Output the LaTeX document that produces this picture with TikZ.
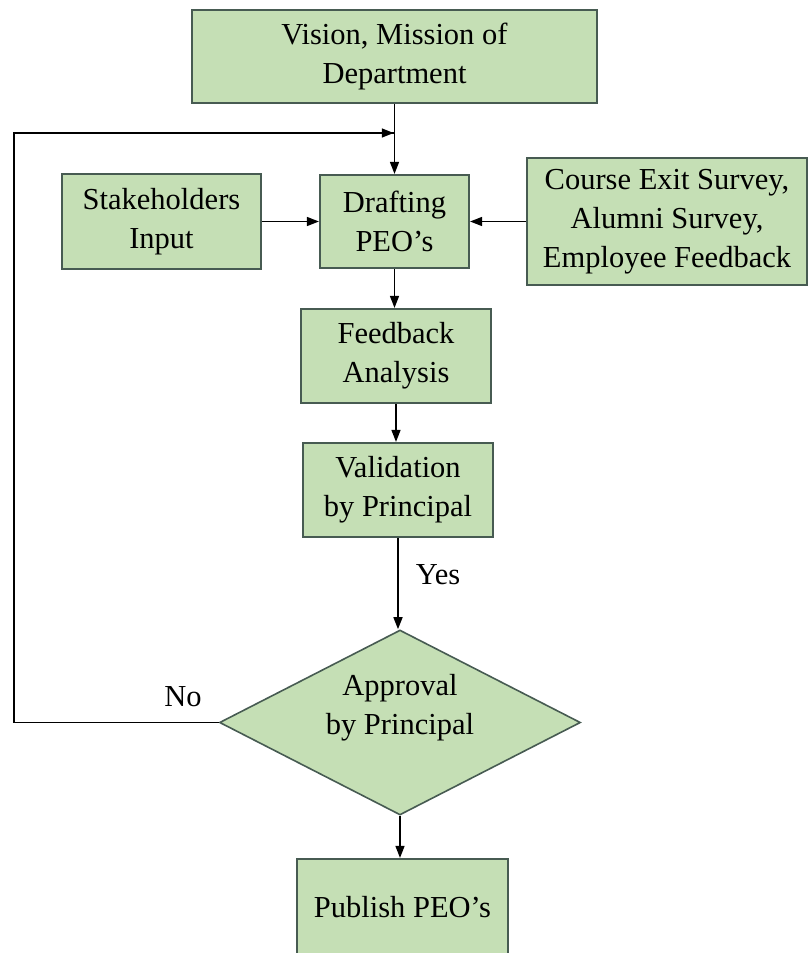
\documentclass[tikz,border=0pt]{standalone}
\usepackage{fontspec}
\setmainfont{Liberation Serif}
\usetikzlibrary{shapes.geometric,arrows.meta}
\definecolor{boxfill}{HTML}{C5DFB5}
\definecolor{boxline}{HTML}{475B52}
\begin{document}
\begin{tikzpicture}[x=1pt,y=-1pt,
  every node/.style={font=\fontsize{30.5}{39}\selectfont},
  stepbox/.style={draw=boxline,fill=boxfill,line width=2.2pt,rectangle,
    inner sep=0pt,align=center},
  decision/.style={draw=boxline,fill=boxfill,line width=1.6pt,diamond,
    inner sep=0pt,minimum width=361pt,minimum height=185pt},
  flow/.style={line width=1.5pt,-{Triangle[length=12pt,width=9pt]}},
  plainline/.style={line width=1.5pt},
  tag/.style={inner sep=0pt}]
\useasboundingbox (0,0) rectangle (807,953);

% process boxes
\node[stepbox,minimum width=405pt,minimum height=93pt] (vision) at (394.5,56.5)
  {Vision, Mission of\\Department};
\node[stepbox,minimum width=199pt,minimum height=95pt] (stake) at (161.5,221.5)
  {Stakeholders\\Input};
\node[stepbox,minimum width=149pt,minimum height=93pt] (draft) at (394.5,221.5)
  {Drafting\\PEO’s};
\node[stepbox,minimum width=280pt,minimum height=127pt] (survey) at (667,221.5)
  {Course Exit Survey,\\Alumni Survey,\\Employee Feedback};
\node[stepbox,minimum width=190pt,minimum height=94pt] (feedback) at (396,356)
  {Feedback\\Analysis};
\node[stepbox,minimum width=190pt,minimum height=94pt] (valid) at (398,490)
  {Validation\\by Principal};

% decision
\node[decision] (approve) at (400,722.5) {};
\node[tag,align=center] (approvetext) at (400,708) {Approval\\by Principal};

\node[stepbox,minimum width=211pt,minimum height=96pt] (publish) at (402.5,907)
  {Publish PEO’s};

% connectors
\coordinate (merge) at (vision.south |- 0,133);
\draw[flow] (vision.south) -- (vision.south |- draft.north);
\draw[flow] (stake.east) -- (stake.east -| draft.west);
\draw[flow] (survey.west) -- (survey.west -| draft.east);
\draw[flow] (draft.south) -- (draft.south |- feedback.north);
\draw[flow] (feedback.south) -- (feedback.south |- valid.north);
\draw[flow] (valid.south) -- (valid.south |- approve.north);
\draw[flow] (approve.south) -- (approve.south |- publish.north);

% return path when not approved
\coordinate (loopbottom) at (14,722.5);
\coordinate (looptop) at (14,133);
\draw[plainline] (approve.west) -- (loopbottom) -- (looptop) -- ([xshift=-0.75pt]merge);
\draw[flow] (looptop) -- ([xshift=-0.75pt]merge);

% branch labels
\node[tag] (yes) at (438,575) {Yes};
\node[tag] (no) at (183,697) {No};
\end{tikzpicture}
\end{document}
